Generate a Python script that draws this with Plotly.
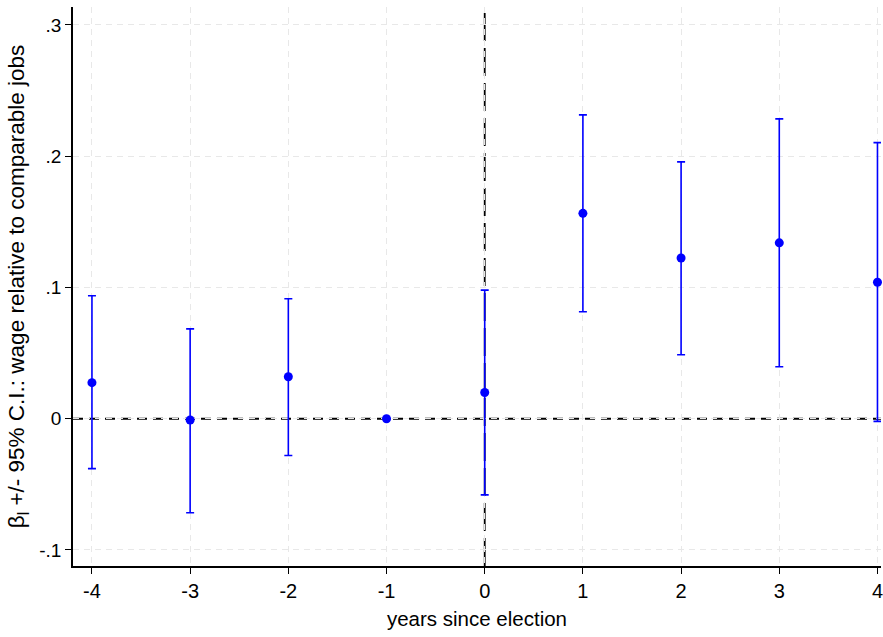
import plotly.graph_objects as go

years = [-4, -3, -2, -1, 0, 1, 2, 3, 4]
beta = [0.0275, -0.001, 0.032, 0.0, 0.020, 0.1565, 0.1225, 0.134, 0.104]
ci_upper = [0.0937, 0.0685, 0.0914, 0.0, 0.098, 0.2315, 0.1957, 0.2285, 0.2104]
ci_lower = [-0.038, -0.0716, -0.028, 0.0, -0.058, 0.0815, 0.0487, 0.0396, -0.002]

x_ticks = [-4, -3, -2, -1, 0, 1, 2, 3, 4]
x_labels = ["-4", "-3", "-2", "-1", "0", "1", "2", "3", "4"]
y_ticks = [-0.1, 0, 0.1, 0.2, 0.3]
y_labels = ["-.1", "0", ".1", ".2", ".3"]

err_plus = [u - b for u, b in zip(ci_upper, beta)]
err_minus = [b - l for b, l in zip(beta, ci_lower)]

fig = go.Figure()
fig.add_trace(go.Scatter(
    x=years, y=beta, mode="markers",
    marker=dict(color="#0000ff", size=9),
    error_y=dict(type="data", symmetric=False, array=err_plus, arrayminus=err_minus,
                 color="#0000ff", thickness=1.6, width=4),
    showlegend=False, cliponaxis=False,
))

# white underlay hides the grey grid under the reference lines
fig.add_shape(type="line", xref="paper", yref="y", x0=0, x1=1, y0=0, y1=0,
              line=dict(color="white", width=3), layer="between")
fig.add_shape(type="line", xref="x", yref="paper", x0=0, x1=0, y0=0, y1=1,
              line=dict(color="white", width=3), layer="between")
fig.add_shape(type="line", xref="paper", yref="y", x0=0, x1=1, y0=0, y1=0,
              line=dict(color="black", width=2, dash="10px,6px"), layer="between")
fig.add_shape(type="line", xref="x", yref="paper", x0=0, x1=0, y0=0, y1=1,
              line=dict(color="black", width=1.8, dash="28px,7px"), layer="between")

regular = "Liberation Sans, Arial, Helvetica, sans-serif"
fig.update_layout(
    width=883, height=637,
    margin=dict(l=73, r=0, t=7, b=71),
    plot_bgcolor="white", paper_bgcolor="white",
    font=dict(family=regular, size=19, color="black"),
    xaxis=dict(range=[-4.193, 4.036], tickvals=x_ticks, ticktext=x_labels,
               showline=True, linecolor="black", linewidth=1.5,
               ticks="outside", ticklen=6, tickcolor="black", tickwidth=1.2,
               showgrid=True, gridcolor="#e8e8e8", gridwidth=1.3, griddash="6px,5px",
               zeroline=False, ticklabeloverflow="allow",
               title=dict(text="years since election", standoff=11,
                          font=dict(family=regular, size=20.5)),
               tickfont=dict(family=regular, size=20)),
    yaxis=dict(range=[-0.1122, 0.3137], tickvals=y_ticks, ticktext=y_labels,
               showline=True, linecolor="black", linewidth=1.5,
               ticks="outside", ticklen=6, tickcolor="black", tickwidth=1.2,
               showgrid=True, gridcolor="#e8e8e8", gridwidth=1.3, griddash="6px,5px",
               zeroline=False,
               title=dict(text="β<sub>l</sub> +/- 95% C.I.: wage relative to comparable jobs",
                          standoff=8, font=dict(family=regular, size=22.5)),
               tickfont=dict(family=regular, size=19)),
)

fig.write_html("out.html")
